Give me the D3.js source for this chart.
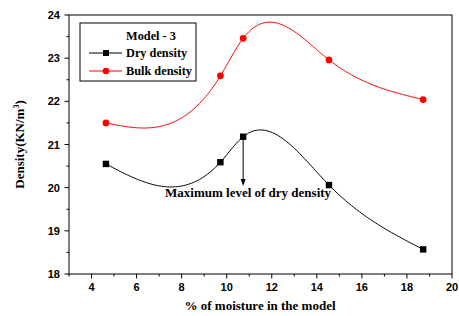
<!DOCTYPE html>
<html>
<head>
<meta charset="utf-8">
<script src="https://cdn.jsdelivr.net/npm/d3@7"></script>
<style>
  body { margin: 0; background: #fff; }
  svg { display: block; }
  .tick-lab { font-family: "Liberation Sans", Arial, sans-serif; font-weight: bold; font-size: 11px; }
  .serif { font-family: "Liberation Serif", "Times New Roman", serif; font-weight: bold; font-size: 13px; }
  .leg { font-size: 12.3px; }
</style>
</head>
<body>
<svg id="chart" width="459" height="316"></svg>
<script>
// moisture content (%) for both series
const moisture = [4.64, 9.72, 10.73, 14.54, 18.72];
const dryDensity = [20.55, 20.59, 21.18, 20.06, 18.57];
const bulkDensity = [21.5, 22.59, 23.46, 22.96, 22.04];
const xTicks = [4, 6, 8, 10, 12, 14, 16, 18, 20];
const yTicks = [18, 19, 20, 21, 22, 23, 24];

const svg = d3.select("#chart");
const margin = { left: 69, top: 15, right: 7, bottom: 42 };
const W = 459, H = 316;

const x = d3.scaleLinear().domain([3, 20]).range([margin.left, W - margin.right]);
const y = d3.scaleLinear().domain([18, 24]).range([H - margin.bottom, margin.top]);

// natural cubic spline y = f(x), like Origin's spline connector
function spline(xs, ys) {
  const n = xs.length;
  const h = [], a = [], b = [], c = [], r = [];
  for (let i = 0; i < n - 1; i++) h[i] = xs[i + 1] - xs[i];
  const m = new Array(n).fill(0);
  for (let i = 1; i < n - 1; i++) {
    a[i] = h[i - 1];
    b[i] = 2 * (h[i - 1] + h[i]);
    c[i] = h[i];
    r[i] = 6 * ((ys[i + 1] - ys[i]) / h[i] - (ys[i] - ys[i - 1]) / h[i - 1]);
  }
  for (let i = 2; i < n - 1; i++) {
    const w = a[i] / b[i - 1];
    b[i] -= w * c[i - 1];
    r[i] -= w * r[i - 1];
  }
  for (let i = n - 2; i >= 1; i--) {
    m[i] = (r[i] - (i < n - 2 ? c[i] * m[i + 1] : 0)) / b[i];
  }
  return function(t) {
    let i = 0;
    while (i < n - 2 && t > xs[i + 1]) i++;
    const hh = h[i], A = (xs[i + 1] - t) / hh, B = (t - xs[i]) / hh;
    return A * ys[i] + B * ys[i + 1] +
      ((A * A * A - A) * m[i] + (B * B * B - B) * m[i + 1]) * hh * hh / 6;
  };
}

// frame
svg.append("rect")
  .attr("x", x(3)).attr("y", y(24))
  .attr("width", x(20) - x(3)).attr("height", y(18) - y(24))
  .attr("fill", "none").attr("stroke", "#000").attr("stroke-width", 1);

// x ticks
const xMinor = d3.range(3, 20.01, 1);
svg.selectAll(".xminor").data(xMinor).enter().append("line")
  .attr("x1", d => x(d)).attr("x2", d => x(d))
  .attr("y1", y(18)).attr("y2", d => y(18) + (d % 2 === 0 ? 4.5 : 2.5))
  .attr("stroke", "#000");
svg.selectAll(".xlab").data(xTicks).enter().append("text")
  .attr("class", "tick-lab")
  .attr("x", d => x(d)).attr("y", y(18) + 17)
  .attr("text-anchor", "middle").text(d => d);

// y ticks
const yMinor = d3.range(18, 24.01, 0.5);
svg.selectAll(".yminor").data(yMinor).enter().append("line")
  .attr("x1", x(3)).attr("x2", d => x(3) - (Number.isInteger(d) ? 4.5 : 2.5))
  .attr("y1", d => y(d)).attr("y2", d => y(d))
  .attr("stroke", "#000");
svg.selectAll(".ylab").data(yTicks).enter().append("text")
  .attr("class", "tick-lab")
  .attr("x", x(3) - 9).attr("y", d => y(d) + 4)
  .attr("text-anchor", "end").text(d => d);

// axis titles
svg.append("text").attr("class", "serif")
  .attr("x", 260).attr("y", 310)
  .attr("text-anchor", "middle")
  .text("% of moisture in the model");

const yt = svg.append("text").attr("class", "serif")
  .attr("transform", `translate(24,${y(21)}) rotate(-90)`)
  .attr("text-anchor", "middle");
yt.append("tspan").text("Density(KN/m");
yt.append("tspan").attr("dy", -5).style("font-size", "8px").text("3");
yt.append("tspan").attr("dy", 5).text(")");

// curves
const line = d3.line().x(d => x(d[0])).y(d => y(d[1]));
const dryPts = moisture.map((m, i) => [m, dryDensity[i]]);
const bulkPts = moisture.map((m, i) => [m, bulkDensity[i]]);

function sampled(ys) {
  const f = spline(moisture, ys);
  const x0 = moisture[0], x1 = moisture[moisture.length - 1];
  return d3.range(0, 201).map(k => {
    const t = x0 + (x1 - x0) * k / 200;
    return [t, f(t)];
  });
}

svg.append("path").datum(sampled(bulkDensity)).attr("d", line)
  .attr("fill", "none").attr("stroke", "#ff0000").attr("stroke-width", 1);
svg.append("path").datum(sampled(dryDensity)).attr("d", line)
  .attr("fill", "none").attr("stroke", "#000").attr("stroke-width", 1);

svg.selectAll(".bulkpt").data(bulkPts).enter().append("circle")
  .attr("cx", d => x(d[0])).attr("cy", d => y(d[1])).attr("r", 3.4)
  .attr("fill", "#ff0000");
svg.selectAll(".drypt").data(dryPts).enter().append("rect")
  .attr("x", d => x(d[0]) - 3.2).attr("y", d => y(d[1]) - 3.2)
  .attr("width", 6.4).attr("height", 6.4).attr("fill", "#000");

// annotation arrow from max dry density point
const peak = dryPts[2];
const arrowEnd = y(20.06) + 1;
svg.append("line")
  .attr("x1", x(peak[0])).attr("x2", x(peak[0]))
  .attr("y1", y(peak[1])).attr("y2", arrowEnd - 5)
  .attr("stroke", "#000");
svg.append("path")
  .attr("d", `M${x(peak[0]) - 2.5},${arrowEnd - 7} L${x(peak[0]) + 2.5},${arrowEnd - 7} L${x(peak[0])},${arrowEnd} Z`)
  .attr("fill", "#000");
svg.append("text").attr("class", "serif")
  .attr("x", 165).attr("y", 197)
  .text("Maximum level of dry density");

// legend
const lg = svg.append("g");
lg.append("rect").attr("x", 80).attr("y", 23).attr("width", 116).attr("height", 58)
  .attr("fill", "#fff").attr("stroke", "#000");
lg.append("text").attr("class", "serif leg").attr("x", 151).attr("y", 40)
  .attr("text-anchor", "middle").text("Model - 3");
const entries = [
  { name: "Dry density", color: "#000", shape: "square", yy: 53 },
  { name: "Bulk density", color: "#ff0000", shape: "circle", yy: 71 }
];
entries.forEach(e => {
  lg.append("line").attr("x1", 89).attr("x2", 122).attr("y1", e.yy).attr("y2", e.yy)
    .attr("stroke", e.color);
  if (e.shape === "square") {
    lg.append("rect").attr("x", 103).attr("y", e.yy - 3).attr("width", 6).attr("height", 6).attr("fill", e.color);
  } else {
    lg.append("circle").attr("cx", 106).attr("cy", e.yy).attr("r", 3.3).attr("fill", e.color);
  }
  lg.append("text").attr("class", "serif leg").attr("x", 126).attr("y", e.yy + 4)
    .text(e.name);
});
</script>
</body>
</html>
